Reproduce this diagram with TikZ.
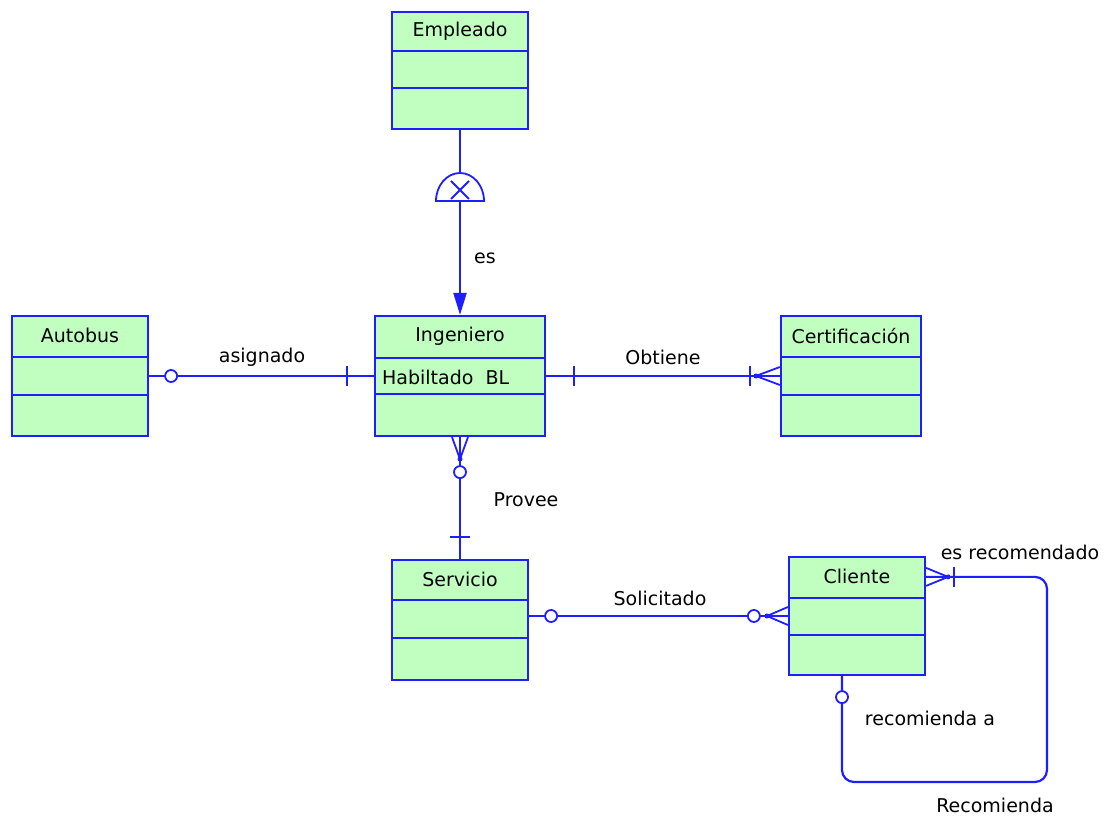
\documentclass[tikz,border=0pt]{standalone}
\usepackage{fontspec}
\setmainfont{DejaVu Sans}
\usetikzlibrary{arrows.meta,calc}
\definecolor{erblue}{RGB}{30,30,255}
\definecolor{ergreen}{RGB}{192,255,192}
\tikzset{
  entity/.style={draw=erblue, fill=ergreen, line width=2.2pt, inner sep=0pt, minimum width=136, minimum height=118},
  rel/.style={draw=erblue, line width=2.2pt},
  foot/.style={draw=erblue, line width=1.8pt},
  lbl/.style={font=\fontsize{19}{22}\selectfont, inner sep=0pt},
  optional/.style={draw=erblue, fill=white, line width=1.8pt},
}

\begin{document}
\begin{tikzpicture}[x=1pt,y=1pt]
\useasboundingbox (0,0) rectangle (1110,816);

% entidades
\node[entity, minimum height=117] (empleado) at (460,745.5) {};
\node[entity, minimum width=170, minimum height=120] (ingeniero) at (460,440) {};
\node[entity, minimum height=120] (autobus) at (80,440) {};
\node[entity, minimum width=140, minimum height=120] (certificacion) at (851,440) {};
\node[entity, minimum height=120] (servicio) at (460,196) {};
\node[entity] (cliente) at (857,200) {};

\foreach \e/\a/\b in {empleado/40/77, ingeniero/43/79, autobus/42/80, certificacion/42/80, servicio/41/79, cliente/42/79} {
  \draw[rel] ([yshift=-\a]\e.north west) -- ([yshift=-\a]\e.north east);
  \draw[rel] ([yshift=-\b]\e.north west) -- ([yshift=-\b]\e.north east);
}

\node[lbl] (empleado-t) at ([yshift=-20]empleado.north) {Empleado};
\node[lbl] (ingeniero-t) at ([yshift=-21]ingeniero.north) {Ingeniero};
\node[lbl, anchor=west] (habilitado) at ([xshift=8,yshift=-1]ingeniero.west) {Habiltado\ \ BL};
\node[lbl] (autobus-t) at ([yshift=-21]autobus.north) {Autobus};
\node[lbl] (certificacion-t) at ([yshift=-21]certificacion.north) {Certificación};
\node[lbl] (servicio-t) at ([yshift=-21]servicio.north) {Servicio};
\node[lbl] (cliente-t) at ([yshift=-21]cliente.north) {Cliente};

% es (herencia)
\draw[rel, -{Triangle[length=22pt,width=13pt]}] (empleado.south) -- (ingeniero.north);
\coordinate (inh) at (460,615);
\draw[foot, fill=white] ($(inh)+(-24,0)$) arc[start angle=180, end angle=0, x radius=24, y radius=28] -- cycle;
\draw[foot] ($(inh)+(-9,2)$) -- ($(inh)+(9,20)$) ($(inh)+(9,2)$) -- ($(inh)+(-9,20)$);
\node[lbl] (lbl-es) at (485,558) {es};

% asignado
\draw[rel] (autobus.east) -- (ingeniero.west);
\draw[optional] ($(autobus.east)+(22,0)$) circle[radius=6];
\draw[foot] ($(ingeniero.west)+(-27,-10)$) -- ++(0,20);
\node[lbl] (lbl-asignado) at (262,459) {asignado};

% Obtiene
\draw[rel] (ingeniero.east) -- (certificacion.west);
\draw[foot] ($(ingeniero.east)+(28,-10)$) -- ++(0,20);
\coordinate (cf-cert) at ($(certificacion.west)+(-24,0)$);
\draw[foot] (cf-cert) -- ($(certificacion.west)+(0,9)$) (cf-cert) -- ($(certificacion.west)+(0,-9)$);
\fill[erblue] (cf-cert) circle[radius=2.5];
\draw[foot] ($(cf-cert)+(-6,-10)$) -- ++(0,20);
\node[lbl] (lbl-obtiene) at (663,459) {Obtiene};

% Provee
\draw[rel] (ingeniero.south) -- (servicio.north);
\coordinate (cf-ing) at ($(ingeniero.south)+(0,-22)$);
\draw[foot] (cf-ing) -- ($(ingeniero.south)+(-8,0)$) (cf-ing) -- ($(ingeniero.south)+(8,0)$);
\fill[erblue] (cf-ing) circle[radius=2.5];
\draw[optional] ($(cf-ing)+(0,-13)$) circle[radius=6];
\draw[foot] ($(servicio.north)+(-10,22)$) -- ++(20,0);
\node[lbl] (lbl-provee) at (526,316) {Provee};

% Solicitado
\draw[rel] (servicio.east |- cliente.west) -- (cliente.west);
\draw[optional] ($(servicio.east |- cliente.west)+(22,0)$) circle[radius=6];
\coordinate (cf-cli) at ($(cliente.west)+(-21,0)$);
\draw[foot] (cf-cli) -- ($(cliente.west)+(0,9)$) (cf-cli) -- ($(cliente.west)+(0,-9)$);
\fill[erblue] (cf-cli) circle[radius=2.5];
\draw[optional] ($(cf-cli)+(-13,0)$) circle[radius=6];
\node[lbl] (lbl-solicitado) at (660,218) {Solicitado};

% Recomienda
\coordinate (rec-a) at ($(cliente.north east)+(0,-21)$);
\coordinate (rec-b) at ($(cliente.south)+(-15,0)$);
\draw[rel, rounded corners=12] (rec-a) -| (1047,34) -| (rec-b);
\coordinate (cf-rec) at ($(rec-a)+(22,0)$);
\draw[foot] (cf-rec) -- ($(rec-a)+(0,9)$) (cf-rec) -- ($(rec-a)+(0,-9)$);
\fill[erblue] (cf-rec) circle[radius=2.5];
\draw[foot] ($(cf-rec)+(6,-10)$) -- ++(0,20);
\draw[optional] ($(rec-b)+(0,-21)$) circle[radius=6];
\node[lbl] (lbl-esrec) at (1020,264) {es recomendado};
\node[lbl] (lbl-recomienda-a) at (930,98) {recomienda a};
\node[lbl] (lbl-recomienda) at (995,11) {Recomienda};
\end{tikzpicture}
\end{document}
